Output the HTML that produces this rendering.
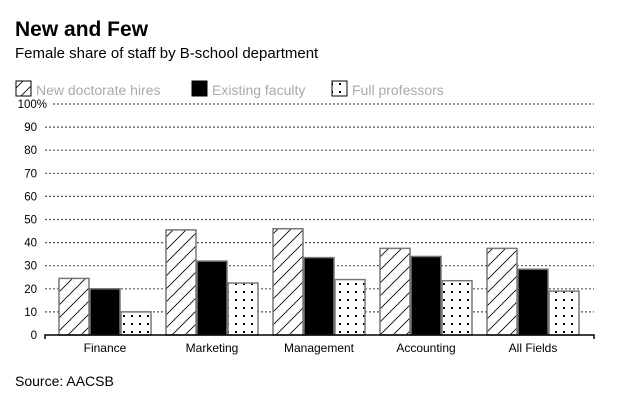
<!DOCTYPE html>
<html><head><meta charset="utf-8"><style>
body{margin:0;background:#fff;width:630px;height:400px;overflow:hidden;font-family:"Liberation Sans",sans-serif}
</style></head><body>
<svg width="630" height="400" xmlns="http://www.w3.org/2000/svg">
<defs>
<pattern id="hatch" width="13" height="13" patternUnits="userSpaceOnUse"><rect width="13" height="13" fill="#fff"/><path d="M-1,14 L14,-1 M-7,7 L7,-7 M6,20 L20,6" stroke="#000" stroke-width="0.8"/></pattern>
<pattern id="dots" width="8" height="8" patternUnits="userSpaceOnUse"><rect width="8" height="8" fill="#fff"/><rect x="3" y="3" width="2" height="2" fill="#000"/></pattern>
</defs>
<text x="15" y="36" font-size="21" font-weight="bold">New and Few</text>
<text x="15" y="58" font-size="15">Female share of staff by B-school department</text>
<g id="legend"></g>
<g id="grid"></g>
<g id="bars"></g>
<g id="xlabels"></g>
<path d="M45,339 V335 H594 V339" fill="none" stroke="#000" stroke-width="1.5"/>
<text x="15" y="386" font-size="14">Source: AACSB</text>
</svg>
<script>
const categories=["Finance","Marketing","Management","Accounting","All Fields"];
const seriesNames=["New doctorate hires","Existing faculty","Full professors"];
const newHires=[24.5,45.5,46,37.5,37.5];
const existing=[20,32,33.5,34,28.5];
const fullProf=[10,22.5,24,23.5,19];
const yTicks=[0,10,20,30,40,50,60,70,80,90,100];
const NS="http://www.w3.org/2000/svg";
const y=v=>335-v*2.31;
const gx=i=>105+i*107;
const fills=["url(#hatch)","#000","url(#dots)"];
const series=[newHires,existing,fullProf];
function mk(t,a,p){const e=document.createElementNS(NS,t);for(const k in a)e.setAttribute(k,a[k]);p.appendChild(e);return e;}
const grid=document.getElementById('grid');
yTicks.forEach(t=>{
  if(t>0){const l=mk('line',{x1:t==100?53:45,x2:594,y1:y(t),y2:y(t),stroke:'#555','stroke-dasharray':'2,2','stroke-width':1.2},grid);
  
  }
  const tx=mk('text',{x:t==100?47:37,y:y(t)+4,'font-size':11.5,'text-anchor':'end'},grid);
  tx.textContent=t==100?'100%':t;
  
  
});
const bars=document.getElementById('bars');
categories.forEach((c,i)=>{
  series.forEach((s,j)=>{
    const x=gx(i)-46+j*31;
    const r=mk('rect',{x:x,y:y(s[i]),width:30,height:335-y(s[i]),fill:fills[j],stroke:'#777','stroke-width':1.5},bars);
    
    
  });
  const t=mk('text',{x:gx(i),y:352,'font-size':12,'text-anchor':'middle'},document.getElementById('xlabels'));
  t.textContent=c;
  
  
});
const lg=document.getElementById('legend');
const lx=[16,192,332];
seriesNames.forEach((n,j)=>{
  const r=mk('rect',{x:lx[j],y:81,width:15,height:15,fill:fills[j],stroke:'#000','stroke-width':1},lg);
  
  
  const t=mk('text',{x:lx[j]+20,y:95,'font-size':14,fill:'#aaa'},lg);
  t.textContent=n;
  
  
});
</script>
</body></html>
